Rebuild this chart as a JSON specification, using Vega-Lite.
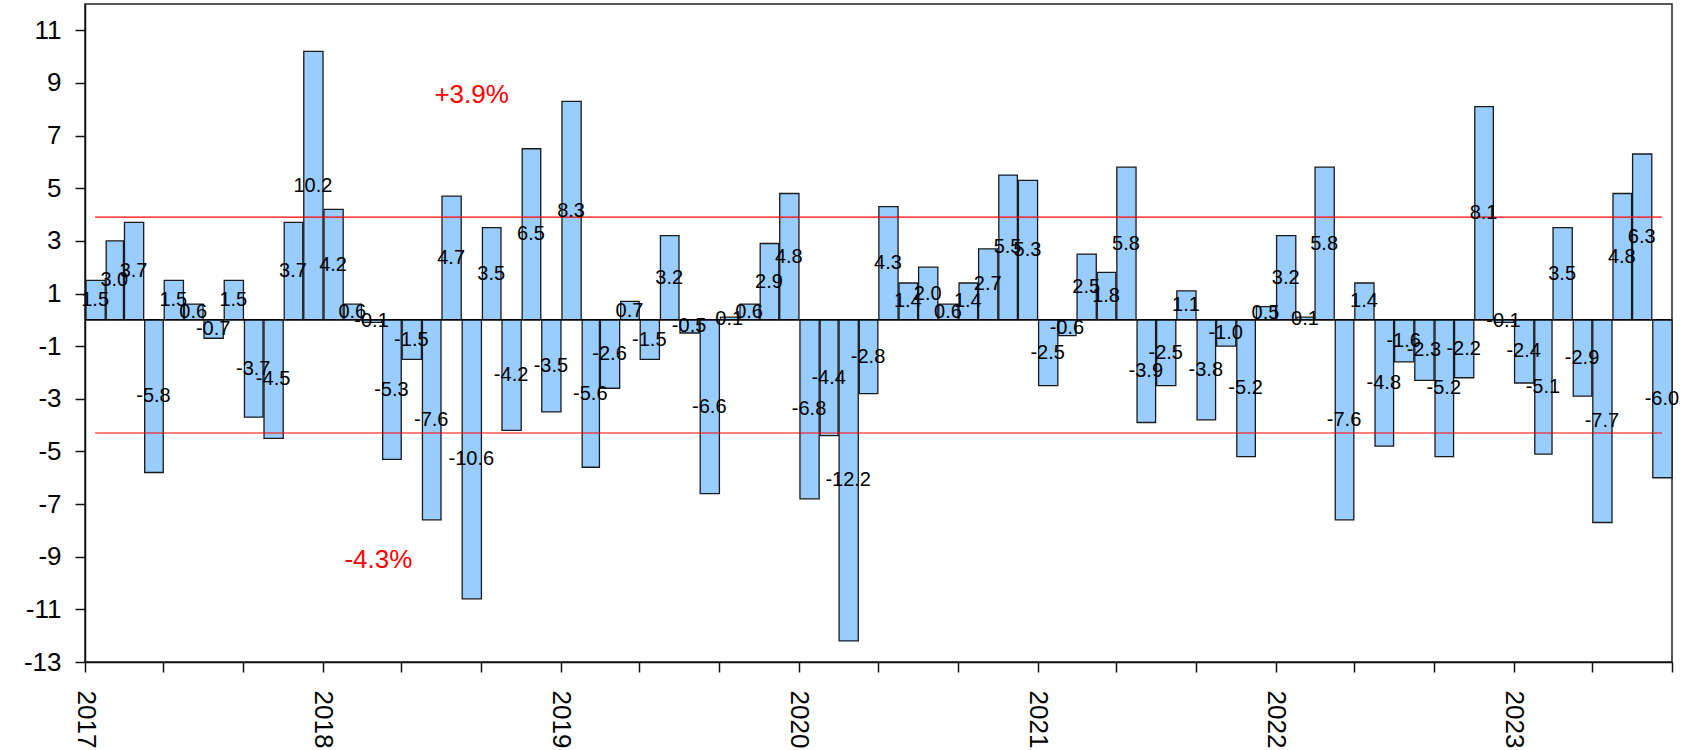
{
  "$schema": "https://vega.github.io/schema/vega-lite/v6.json",
  "width": 1587,
  "height": 658,
  "padding": {"left": 5, "top": 4, "right": 5, "bottom": 0},
  "autosize": {"type": "pad"},
  "background": "white",
  "config": {
    "locale": {"number": {"decimal": ".", "thousands": ",", "grouping": [3], "currency": ["$", ""], "minus": "-"}},
    "view": {"stroke": "#222222", "strokeWidth": 1.5},
    "font": "Liberation Sans",
    "axis": {"grid": false, "domainColor": "#111111", "domainWidth": 1.5, "tickColor": "#111111", "tickWidth": 1.5, "tickSize": 10, "labelColor": "#000000", "labelFont": "Liberation Sans", "labelFontSize": 26, "title": null}
  },
  "datasets": {
    "m": [
      {"date": "2017-01-01", "v": 1.5}, {"date": "2017-02-01", "v": 3.0}, {"date": "2017-03-01", "v": 3.7}, {"date": "2017-04-01", "v": -5.8},
      {"date": "2017-05-01", "v": 1.5}, {"date": "2017-06-01", "v": 0.6}, {"date": "2017-07-01", "v": -0.7}, {"date": "2017-08-01", "v": 1.5},
      {"date": "2017-09-01", "v": -3.7}, {"date": "2017-10-01", "v": -4.5}, {"date": "2017-11-01", "v": 3.7}, {"date": "2017-12-01", "v": 10.2},
      {"date": "2018-01-01", "v": 4.2}, {"date": "2018-02-01", "v": 0.6}, {"date": "2018-03-01", "v": -0.1}, {"date": "2018-04-01", "v": -5.3},
      {"date": "2018-05-01", "v": -1.5}, {"date": "2018-06-01", "v": -7.6}, {"date": "2018-07-01", "v": 4.7}, {"date": "2018-08-01", "v": -10.6},
      {"date": "2018-09-01", "v": 3.5}, {"date": "2018-10-01", "v": -4.2}, {"date": "2018-11-01", "v": 6.5}, {"date": "2018-12-01", "v": -3.5},
      {"date": "2019-01-01", "v": 8.3}, {"date": "2019-02-01", "v": -5.6}, {"date": "2019-03-01", "v": -2.6}, {"date": "2019-04-01", "v": 0.7},
      {"date": "2019-05-01", "v": -1.5}, {"date": "2019-06-01", "v": 3.2}, {"date": "2019-07-01", "v": -0.5}, {"date": "2019-08-01", "v": -6.6},
      {"date": "2019-09-01", "v": 0.1}, {"date": "2019-10-01", "v": 0.6}, {"date": "2019-11-01", "v": 2.9}, {"date": "2019-12-01", "v": 4.8},
      {"date": "2020-01-01", "v": -6.8}, {"date": "2020-02-01", "v": -4.4}, {"date": "2020-03-01", "v": -12.2}, {"date": "2020-04-01", "v": -2.8},
      {"date": "2020-05-01", "v": 4.3}, {"date": "2020-06-01", "v": 1.4}, {"date": "2020-07-01", "v": 2.0}, {"date": "2020-08-01", "v": 0.6},
      {"date": "2020-09-01", "v": 1.4}, {"date": "2020-10-01", "v": 2.7}, {"date": "2020-11-01", "v": 5.5}, {"date": "2020-12-01", "v": 5.3},
      {"date": "2021-01-01", "v": -2.5}, {"date": "2021-02-01", "v": -0.6}, {"date": "2021-03-01", "v": 2.5}, {"date": "2021-04-01", "v": 1.8},
      {"date": "2021-05-01", "v": 5.8}, {"date": "2021-06-01", "v": -3.9}, {"date": "2021-07-01", "v": -2.5}, {"date": "2021-08-01", "v": 1.1},
      {"date": "2021-09-01", "v": -3.8}, {"date": "2021-10-01", "v": -1.0}, {"date": "2021-11-01", "v": -5.2}, {"date": "2021-12-01", "v": 0.5},
      {"date": "2022-01-01", "v": 3.2}, {"date": "2022-02-01", "v": 0.1}, {"date": "2022-03-01", "v": 5.8}, {"date": "2022-04-01", "v": -7.6},
      {"date": "2022-05-01", "v": 1.4}, {"date": "2022-06-01", "v": -4.8}, {"date": "2022-07-01", "v": -1.6}, {"date": "2022-08-01", "v": -2.3},
      {"date": "2022-09-01", "v": -5.2}, {"date": "2022-10-01", "v": -2.2}, {"date": "2022-11-01", "v": 8.1}, {"date": "2022-12-01", "v": -0.1},
      {"date": "2023-01-01", "v": -2.4}, {"date": "2023-02-01", "v": -5.1}, {"date": "2023-03-01", "v": 3.5}, {"date": "2023-04-01", "v": -2.9},
      {"date": "2023-05-01", "v": -7.7}, {"date": "2023-06-01", "v": 4.8}, {"date": "2023-07-01", "v": 6.3}, {"date": "2023-08-01", "v": -6.0}
    ],
    "bands": [
      {"date": "2017-01-01", "v": 3.9, "g": "upper"}, {"date": "2023-08-01", "v": 3.9, "g": "upper"},
      {"date": "2017-01-01", "v": -4.3, "g": "lower"}, {"date": "2023-08-01", "v": -4.3, "g": "lower"}
    ],
    "notes": [
      {"date": "2018-08-17", "v": 8.53, "label": "+3.9%"},
      {"date": "2018-03-27", "v": -9.11, "label": "-4.3%"}
    ]
  },
  "layer": [
    {
      "data": {"name": "m"},
      "mark": {"type": "bar", "color": "#99CCFF", "stroke": "#1a1a1a", "strokeWidth": 1.3, "opacity": 1},
      "encoding": {
        "x": {
          "field": "date", "timeUnit": "utcyearmonth", "type": "temporal", "title": null,
          "scale": {"type": "utc", "domain": [{"year": 2017, "month": 1, "date": 1, "utc": true}, {"year": 2023, "month": 9, "date": 1, "utc": true}], "nice": false},
          "axis": {
            "values": [
              {"year": 2017, "month": 1, "date": 1, "utc": true}, {"year": 2017, "month": 5, "date": 1, "utc": true}, {"year": 2017, "month": 9, "date": 1, "utc": true},
              {"year": 2018, "month": 1, "date": 1, "utc": true}, {"year": 2018, "month": 5, "date": 1, "utc": true}, {"year": 2018, "month": 9, "date": 1, "utc": true},
              {"year": 2019, "month": 1, "date": 1, "utc": true}, {"year": 2019, "month": 5, "date": 1, "utc": true}, {"year": 2019, "month": 9, "date": 1, "utc": true},
              {"year": 2020, "month": 1, "date": 1, "utc": true}, {"year": 2020, "month": 5, "date": 1, "utc": true}, {"year": 2020, "month": 9, "date": 1, "utc": true},
              {"year": 2021, "month": 1, "date": 1, "utc": true}, {"year": 2021, "month": 5, "date": 1, "utc": true}, {"year": 2021, "month": 9, "date": 1, "utc": true},
              {"year": 2022, "month": 1, "date": 1, "utc": true}, {"year": 2022, "month": 5, "date": 1, "utc": true}, {"year": 2022, "month": 9, "date": 1, "utc": true},
              {"year": 2023, "month": 1, "date": 1, "utc": true}, {"year": 2023, "month": 5, "date": 1, "utc": true}, {"year": 2023, "month": 9, "date": 1, "utc": true}
            ],
            "labelExpr": "utcmonth(datum.value) == 0 && datum.value < datetime(2023, 8, 1) ? utcFormat(datum.value, '%Y') : ''",
            "labelAngle": 90, "labelAlign": "left", "labelBaseline": "middle", "labelPadding": 18,
            "labelFlush": false, "labelOverlap": false, "labelBound": false
          }
        },
        "y": {
          "field": "v", "type": "quantitative", "title": null,
          "scale": {"domain": [-13, 12], "nice": false, "zero": false},
          "axis": {"values": [-13, -11, -9, -7, -5, -3, -1, 1, 3, 5, 7, 9, 11], "labelPadding": 14, "minExtent": 80, "maxExtent": 80}
        }
      }
    },
    {
      "data": {"values": [{}]},
      "mark": {"type": "rule", "color": "#000000", "strokeWidth": 1.5},
      "encoding": {"y": {"datum": 0, "type": "quantitative", "scale": {"domain": [-13, 12], "nice": false, "zero": false}, "axis": null}}
    },
    {
      "data": {"name": "bands"},
      "mark": {"type": "line", "color": "#ff0000", "strokeWidth": 1.2},
      "encoding": {
        "x": {"field": "date", "timeUnit": "utcyearmonth", "type": "temporal", "bandPosition": 0.5},
        "y": {"field": "v", "type": "quantitative", "scale": {"domain": [-13, 12], "nice": false, "zero": false}, "axis": null},
        "detail": {"field": "g"}
      }
    },
    {
      "data": {"name": "m"},
      "mark": {"type": "text", "fontSize": 20, "font": "Liberation Sans", "color": "#000000", "baseline": "middle", "align": "center"},
      "encoding": {
        "x": {"field": "date", "timeUnit": "utcyearmonth", "type": "temporal", "bandPosition": 0.5},
        "y": {"field": "v", "type": "quantitative", "scale": {"domain": [-26, 24], "nice": false, "zero": false}, "axis": null},
        "text": {"field": "v", "type": "quantitative", "format": ".1f"}
      }
    },
    {
      "data": {"name": "notes"},
      "mark": {"type": "text", "fontSize": 26, "font": "Liberation Sans", "color": "#ff0000", "baseline": "middle", "align": "center"},
      "encoding": {
        "x": {"field": "date", "type": "temporal"},
        "y": {"field": "v", "type": "quantitative", "scale": {"domain": [-13, 12], "nice": false, "zero": false}, "axis": null},
        "text": {"field": "label"}
      }
    }
  ],
  "resolve": {"scale": {"y": "independent"}}
}
